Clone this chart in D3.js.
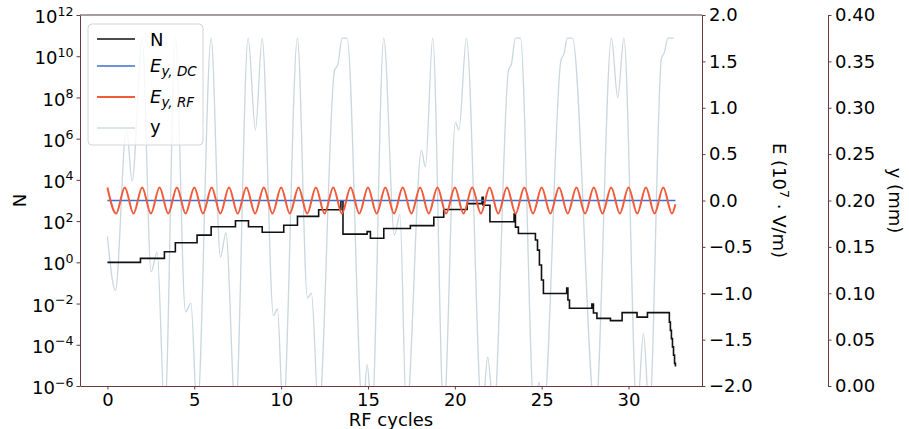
<!DOCTYPE html>
<html><head><meta charset="utf-8">
<script src="https://cdn.jsdelivr.net/npm/d3@7"></script>
<style>body{margin:0;background:#fff}svg{display:block;font-family:"DejaVu Sans",sans-serif}</style>
</head><body><svg id="c" width="909" height="429"></svg>
<script>
// ---------- data ----------
// N (log10 of count) as a step function over RF cycles
const nCycles = [0,1.90,3.28,3.91,5.16,5.97,7.37,8.12,8.91,10.15,10.94,12.16,13.44,13.56,14.95,15.14,15.91,17.44,18.79,19.36,20.71,21.57,21.63,22.02,23.41,23.49,23.66,24.64,24.76,24.87,24.99,25.10,26.44,26.51,26.60,27.89,27.98,28.18,28.96,29.63,30.49,31.09,32.35,32.41,32.47,32.53,32.59,32.65,32.70];
const nLog10 = [0,0.19,0.51,0.95,1.32,1.73,2.02,1.73,1.46,1.80,2.23,2.55,2.98,1.37,1.49,1.17,1.64,1.78,2.19,2.56,2.85,3.16,2.77,1.97,2.34,1.71,1.40,1.08,0.59,-0.13,-0.86,-1.51,-1.25,-1.83,-2.23,-2.03,-2.46,-2.72,-2.83,-2.44,-2.66,-2.44,-2.9,-3.3,-3.7,-4.1,-4.5,-4.9,-5.05];
// E_y,DC (10^7 V/m)
const eDcCycles = [0, 32.70];
const eDcValues = [0, 0];
// E_y,RF extremes (10^7 V/m)
const eRfCycles = [0,0.5,1,1.5,2,2.5,3,3.5,4,4.5,5,5.5,6,6.5,7,7.5,8,8.5,9,9.5,10,10.5,11,11.5,12,12.5,13,13.5,14,14.5,15,15.5,16,16.5,17,17.5,18,18.5,19,19.5,20,20.5,21,21.5,22,22.5,23,23.5,24,24.5,25,25.5,26,26.5,27,27.5,28,28.5,29,29.5,30,30.5,31,31.5,32,32.5,32.70];
const eRfValues = [0.14,-0.14,0.14,-0.14,0.14,-0.14,0.14,-0.14,0.14,-0.14,0.14,-0.14,0.14,-0.14,0.14,-0.14,0.14,-0.14,0.14,-0.14,0.14,-0.14,0.14,-0.14,0.14,-0.14,0.14,-0.14,0.14,-0.14,0.14,-0.14,0.14,-0.14,0.14,-0.14,0.14,-0.14,0.14,-0.14,0.14,-0.14,0.14,-0.14,0.14,-0.14,0.14,-0.14,0.14,-0.14,0.14,-0.14,0.14,-0.14,0.14,-0.14,0.14,-0.14,0.14,-0.14,0.14,-0.14,0.14,-0.14,0.14,-0.14,-0.04];
// y position (mm)
const yCycles = [0,0.461,1.094,1.422,1.998,2.516,2.861,3.299,3.915,4.491,4.807,5.164,5.970,6.505,6.822,7.369,8.100,8.521,8.906,9.557,9.787,10.115,10.938,11.514,11.744,12.165,13.069,13.270,13.512,13.800,14.709,14.951,15.227,15.907,16.523,16.839,17.213,18.077,18.307,18.728,19.361,20.035,20.236,20.668,21.572,21.894,22.239,23.086,23.258,23.489,23.777,24.583,24.842,25.101,26.108,26.281,26.482,26.770,28.094,29.016,29.378,29.735,30.495,30.858,31.203,31.894,32.067,32.268,32.602];
const yValues = [0.161,0.103,0.278,0.221,0.375,0.123,0.144,-0.03,0.375,0.080,0.089,-0.03,0.375,0.139,0.165,-0.03,0.375,0.276,0.375,0.076,0.083,-0.03,0.375,0.095,0.100,-0.03,0.340,0.347,0.375,0.375,-0.03,0.023,-0.03,0.375,0.163,0.185,-0.03,0.254,0.236,0.375,-0.03,0.284,0.276,0.375,-0.03,0.031,-0.03,0.340,0.347,0.375,0.375,-0.03,0.004,-0.03,0.351,0.358,0.375,0.375,-0.03,0.375,0.311,0.375,-0.03,0.057,-0.03,0.353,0.360,0.375,0.375];
// ticks
const xTicks = [0,5,10,15,20,25,30];
const nTickExps = [-6,-4,-2,0,2,4,6,8,10,12];
const eTicks = [-2,-1.5,-1,-0.5,0,0.5,1,1.5,2];
const yTicks = [0,0.05,0.1,0.15,0.2,0.25,0.3,0.35,0.4];

// ---------- layout ----------
const svg = d3.select('#c');
svg.append('rect').attr('width',909).attr('height',429).attr('fill','#fff');
const L=80, R=702, T=15, B=386, R3=828;
const spine = '#6a3a40';
const FS = 18;

const x  = d3.scaleLinear().domain([-1.58,34.23]).range([L,R]);
const yN = d3.scaleLog().domain([1e-6,1e12]).range([B,T]);
const yE = d3.scaleLinear().domain([-2,2]).range([B,T]);
const yY = d3.scaleLinear().domain([0,0.4]).range([B,T]);

svg.append('clipPath').attr('id','clip').append('rect').attr('x',L).attr('y',T).attr('width',R-L).attr('height',B-T);
const plot = svg.append('g').attr('clip-path','url(#clip)');

// y trace
const yData = yCycles.map((t,i)=>[t,yValues[i]]);
plot.append('path').datum(yData)
  .attr('d', d3.line().x(d=>x(d[0])).y(d=>yY(d[1])).curve(d3.curveMonotoneX))
  .attr('fill','none').attr('stroke','#c9d7df').attr('stroke-width',1.3);

// N
const nData = nCycles.map((t,i)=>[t,Math.pow(10,nLog10[i])]);
plot.append('path').datum(nData)
  .attr('d', d3.line().x(d=>x(d[0])).y(d=>yN(d[1])).curve(d3.curveStepAfter))
  .attr('fill','none').attr('stroke','#111').attr('stroke-width',1.6);

// E DC
const eDcData = eDcCycles.map((t,i)=>[t,eDcValues[i]]);
plot.append('path').datum(eDcData)
  .attr('d', d3.line().x(d=>x(d[0])).y(d=>yE(d[1])))
  .attr('fill','none').attr('stroke','#3b6fd0').attr('stroke-width',1.6);

// E RF
const eRfData = eRfCycles.map((t,i)=>[t,eRfValues[i]]);
plot.append('path').datum(eRfData)
  .attr('d', d3.line().x(d=>x(d[0])).y(d=>yE(d[1])).curve(d3.curveMonotoneX))
  .attr('fill','none').attr('stroke','#f15a3a').attr('stroke-width',2);

// frame (top)
svg.append('line').attr('x1',L).attr('x2',R).attr('y1',T).attr('y2',T).attr('stroke','#4a3a3d').attr('stroke-width',1);

function styleAxis(g){
  g.attr('font-size',FS).attr('font-family','DejaVu Sans').attr('color',spine);
  g.selectAll('text').attr('fill','#000');
  g.select('.domain').attr('stroke-width',1);
}

// bottom axis
const gx = svg.append('g').attr('transform',`translate(0,${B})`)
  .call(d3.axisBottom(x).tickValues(xTicks).tickSize(3.5).tickPadding(3.5).tickSizeOuter(0));
styleAxis(gx);

// left log axis
const gl = svg.append('g').attr('transform',`translate(${L},0)`)
  .call(d3.axisLeft(yN).tickValues(nTickExps.map(e=>Math.pow(10,e))).tickSize(3.5).tickPadding(3).tickSizeOuter(0).tickFormat(''));
styleAxis(gl);
gl.selectAll('.tick text').each(function(d){
  const e = Math.round(Math.log10(d));
  const t = d3.select(this).attr('dy','0.42em');
  t.text(null);
  t.append('tspan').text('10');
  t.append('tspan').attr('dy',-7.5).attr('font-size',12.6).text(String(e).replace('-','\u2212'));
});

// right E axis
const ge = svg.append('g').attr('transform',`translate(${R},0)`)
  .call(d3.axisRight(yE).tickValues(eTicks).tickSize(3.5).tickPadding(3.5).tickSizeOuter(0).tickFormat(d3.format('.1f')));
styleAxis(ge);

// third y axis
const gy = svg.append('g').attr('transform',`translate(${R3},0)`)
  .call(d3.axisRight(yY).tickValues(yTicks).tickSize(3.5).tickPadding(3.5).tickSizeOuter(0).tickFormat(d3.format('.2f')));
styleAxis(gy);

// axis labels
svg.append('text').attr('x',(L+R)/2).attr('y',426).attr('text-anchor','middle').attr('font-size',FS).text('RF cycles');
svg.append('text').attr('transform',`translate(26,${(T+B)/2}) rotate(-90)`).attr('text-anchor','middle').attr('font-size',FS).text('N');
const eLab = svg.append('text').attr('transform',`translate(773,${(T+B)/2}) rotate(90)`).attr('text-anchor','middle').attr('font-size',FS);
eLab.append('tspan').text('E (10');
eLab.append('tspan').attr('dy',-7).attr('font-size',12.6).text('7');
eLab.append('tspan').attr('dy',7).text(' \u00b7 V/m)');
svg.append('text').attr('transform',`translate(889,${(T+B)/2}) rotate(90)`).attr('text-anchor','middle').attr('font-size',FS).text('y (mm)');

// legend
const lg = svg.append('g');
lg.append('rect').attr('x',88).attr('y',24).attr('width',115).attr('height',121).attr('rx',4)
  .attr('fill','#fff').attr('fill-opacity',0.8).attr('stroke','#d4d4d4').attr('stroke-width',1);
const items = [
  {c:'#111', y:39, base:45.5, w:1.6},
  {c:'#3b6fd0', y:66, base:72, w:1.6},
  {c:'#f15a3a', y:97, base:103, w:2},
  {c:'#d3dde3', y:128, base:133, w:1.3}
];
items.forEach(it=>lg.append('line').attr('x1',97).attr('x2',135).attr('y1',it.y).attr('y2',it.y).attr('stroke',it.c).attr('stroke-width',it.w));
lg.append('text').attr('x',150).attr('y',items[0].base).attr('font-size',FS).text('N');
[['y, DC',1],['y, RF',2]].forEach(([s,i])=>{
  const t = lg.append('text').attr('x',150).attr('y',items[i].base).attr('font-size',FS);
  t.append('tspan').attr('font-style','italic').text('E');
  t.append('tspan').attr('font-style','italic').attr('font-size',13.5).attr('dy',4).text(s);
});
lg.append('text').attr('x',150).attr('y',items[3].base).attr('font-size',FS).text('y');
</script></body></html>
